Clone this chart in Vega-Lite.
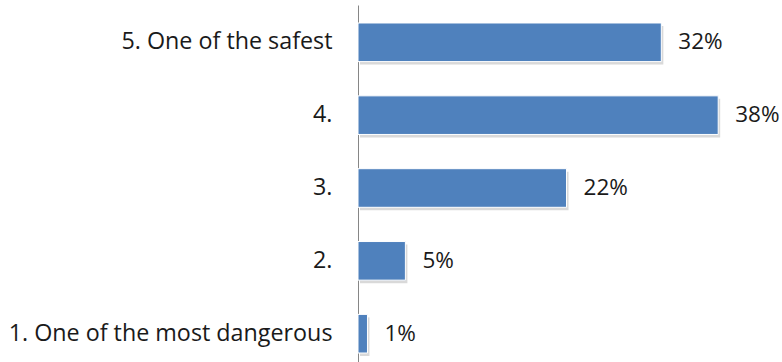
{
  "$schema": "https://vega.github.io/schema/vega-lite/v6.json",
  "width": 400,
  "height": 366,
  "autosize": "none",
  "padding": {"left": 358, "top": 5, "right": 24, "bottom": 0},
  "background": "#ffffff",
  "config": {"view": {"stroke": null}},
  "data": {"values": [
    {"category": "5. One of the safest", "pct": 32, "label": "32%"},
    {"category": "4.", "pct": 38, "label": "38%"},
    {"category": "3.", "pct": 22, "label": "22%"},
    {"category": "2.", "pct": 5, "label": "5%"},
    {"category": "1. One of the most dangerous", "pct": 1, "label": "1%"}
  ]},
  "encoding": {
    "y": {"field": "category", "type": "nominal", "sort": null,
      "scale": {"paddingInner": 0.47, "paddingOuter": 0.247},
      "axis": {"title": null, "ticks": false, "labelPadding": 26, "labelFont": "Open Sans", "labelFontSize": 23.3, "labelColor": "#1a1a1a", "domainColor": "#868686", "domainWidth": 1, "labelLimit": 400}},
    "x": {"field": "pct", "type": "quantitative", "scale": {"domain": [0, 42.2], "nice": false}, "axis": null}
  },
  "layer": [
    {"mark": {"type": "bar", "color": "#bfbfbf", "opacity": 0.6, "xOffset": 2, "yOffset": 3}},
    {"mark": {"type": "bar", "color": "#4F81BD", "stroke": "#ffffff", "strokeWidth": 1}},
    {"mark": {"type": "text", "align": "left", "baseline": "middle", "dx": 17, "font": "Open Sans", "fontSize": 22.5, "color": "#1a1a1a"},
      "encoding": {"text": {"field": "label"}}}
  ]
}
